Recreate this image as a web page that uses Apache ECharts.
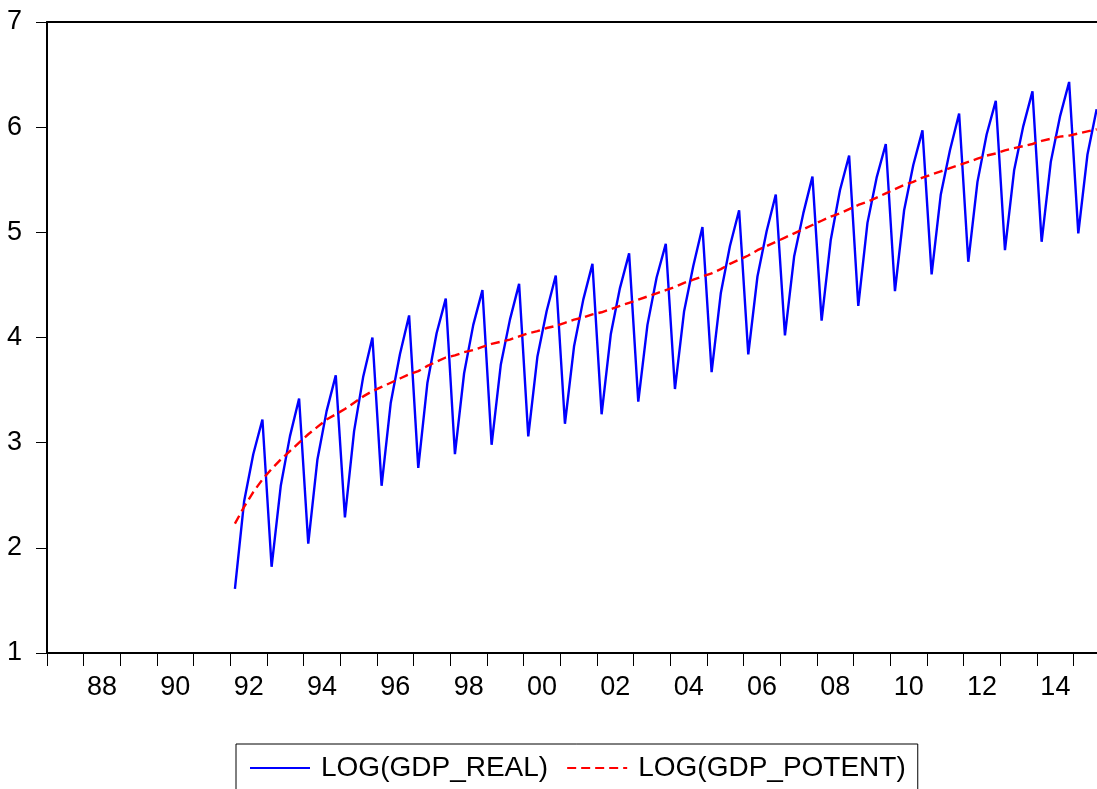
<!DOCTYPE html>
<html>
<head>
<meta charset="utf-8">
<script src="https://cdn.jsdelivr.net/npm/echarts@6/dist/echarts.min.js"></script>
<style>
html,body{margin:0;padding:0;background:#fff;}
#chart{width:1097px;height:789px;}
</style>
</head>
<body>
<div id="chart"></div>
<script>
// Quarterly observations starting at 1992Q1
const firstYear = 1992;
const seriesNames = ['LOG(GDP_REAL)', 'LOG(GDP_POTENT)'];

const gdpReal = [
  1.61, 2.44, 2.89, 3.22,
  1.82, 2.59, 3.06, 3.42,
  2.04, 2.84, 3.30, 3.64,
  2.29, 3.11, 3.63, 4.00,
  2.59, 3.38, 3.84, 4.21,
  2.76, 3.57, 4.04, 4.37,
  2.89, 3.66, 4.12, 4.45,
  2.98, 3.74, 4.17, 4.51,
  3.06, 3.82, 4.25, 4.59,
  3.18, 3.92, 4.36, 4.70,
  3.27, 4.03, 4.47, 4.80,
  3.39, 4.12, 4.57, 4.89,
  3.51, 4.25, 4.68, 5.05,
  3.67, 4.42, 4.87, 5.21,
  3.84, 4.58, 5.01, 5.36,
  4.02, 4.77, 5.18, 5.53,
  4.16, 4.93, 5.40, 5.73,
  4.30, 5.09, 5.52, 5.84,
  4.44, 5.21, 5.64, 5.97,
  4.60, 5.36, 5.78, 6.13,
  4.72, 5.48, 5.93, 6.25,
  4.83, 5.59, 6.01, 6.34,
  4.91, 5.67, 6.10, 6.43,
  4.99, 5.74, 6.17
];

const gdpPotent = [
  2.23, 2.39, 2.53, 2.65,
  2.75, 2.84, 2.92, 3.00,
  3.08, 3.15, 3.22, 3.27,
  3.32, 3.38, 3.44, 3.49,
  3.53, 3.57, 3.61, 3.65,
  3.68, 3.73, 3.77, 3.81,
  3.83, 3.86, 3.88, 3.91,
  3.94, 3.96, 3.98, 4.01,
  4.04, 4.06, 4.09, 4.11,
  4.14, 4.17, 4.19, 4.22,
  4.24, 4.27, 4.30, 4.33,
  4.36, 4.39, 4.42, 4.45,
  4.48, 4.52, 4.55, 4.58,
  4.61, 4.65, 4.70, 4.74,
  4.78, 4.83, 4.87, 4.91,
  4.95, 4.99, 5.03, 5.07,
  5.11, 5.15, 5.18, 5.22,
  5.26, 5.29, 5.33, 5.37,
  5.41, 5.45, 5.48, 5.52,
  5.55, 5.58, 5.61, 5.64,
  5.67, 5.70, 5.73, 5.75,
  5.78, 5.80, 5.82, 5.84,
  5.87, 5.89, 5.91, 5.92,
  5.94, 5.96, 5.98
];

// axis ticks / labels
const xTickYears = [1987, 1988, 1989, 1990, 1991, 1992, 1993, 1994, 1995, 1996,
  1997, 1998, 1999, 2000, 2001, 2002, 2003, 2004, 2005, 2006, 2007, 2008, 2009,
  2010, 2011, 2012, 2013, 2014, 2015];
const xLabelYears = [1988, 1990, 1992, 1994, 1996, 1998, 2000, 2002, 2004, 2006, 2008, 2010, 2012, 2014];
const xLabels = ['88', '90', '92', '94', '96', '98', '00', '02', '04', '06', '08', '10', '12', '14'];
const yTicks = [1, 2, 3, 4, 5, 6, 7];

// each quarter is plotted at the middle of its quarter on a continuous time axis
function quarterPos(i) {
  const y = firstYear + Math.floor(i / 4);
  const q = i % 4;
  return y + (q + 0.5) / 4;
}
const realPairs = gdpReal.map((v, i) => [quarterPos(i), v]);
const potentPairs = gdpPotent.map((v, i) => [quarterPos(i), v]);
// year labels sit in the middle of their year
const labelPos = xLabelYears.map(y => y + 0.5);

const FONT = 'Liberation Sans, Arial, sans-serif';
const X_MIN = 1987, X_MAX = 2015.635;
const chart = echarts.init(document.getElementById('chart'), null, {renderer: 'canvas'});
chart.setOption({
  animation: false,
  backgroundColor: '#fff',
  grid: {left: 47, right: 0, top: 22, bottom: 136, show: false},
  xAxis: [{
    type: 'value',
    min: X_MIN, max: X_MAX,
    axisLine: {show: true, onZero: false, lineStyle: {color: '#000', width: 2}},
    axisTick: {show: true, inside: false, length: 13, customValues: xTickYears,
      lineStyle: {color: '#000', width: 1}},
    splitLine: {show: false},
    axisLabel: {
      color: '#000', fontFamily: FONT, fontSize: 27, margin: 21,
      customValues: labelPos,
      formatter: function (v) {
        const idx = labelPos.findIndex(p => Math.abs(p - v) < 1e-6);
        return idx >= 0 ? xLabels[idx] : '';
      }
    }
  }, {
    type: 'value', position: 'top',
    min: X_MIN, max: X_MAX,
    axisLine: {show: true, onZero: false, lineStyle: {color: '#000', width: 2}},
    axisTick: {show: false}, axisLabel: {show: false}, splitLine: {show: false}
  }],
  yAxis: {
    type: 'value',
    min: yTicks[0], max: yTicks[yTicks.length - 1], interval: 1,
    axisLine: {show: true, onZero: false, lineStyle: {color: '#000', width: 2}},
    axisTick: {show: true, inside: false, length: 11, lineStyle: {color: '#000', width: 1}},
    splitLine: {show: false},
    axisLabel: {color: '#000', fontFamily: FONT, fontSize: 27, margin: 25}
  },
  legend: {
    left: 236, top: 744,
    padding: [10, 12, 40, 13],
    borderColor: '#000', borderWidth: 1,
    itemWidth: 60, itemHeight: 2, itemGap: 18,
    itemStyle: {opacity: 0},
    textStyle: {color: '#000', fontFamily: FONT, fontSize: 28, padding: [0, 0, 0, 6]},
    data: seriesNames
  },
  series: [
    {
      name: seriesNames[0], type: 'line', data: realPairs, xAxisIndex: 0,
      symbol: 'none', showSymbol: false,
      lineStyle: {color: '#0000ff', width: 2.4}, itemStyle: {color: '#0000ff'}
    },
    {
      name: seriesNames[1], type: 'line', data: potentPairs, xAxisIndex: 0,
      symbol: 'none', showSymbol: false,
      lineStyle: {color: '#ff0000', width: 2.4, type: [9, 5]}, itemStyle: {color: '#ff0000'}
    }
  ]
});
</script>
</body>
</html>
